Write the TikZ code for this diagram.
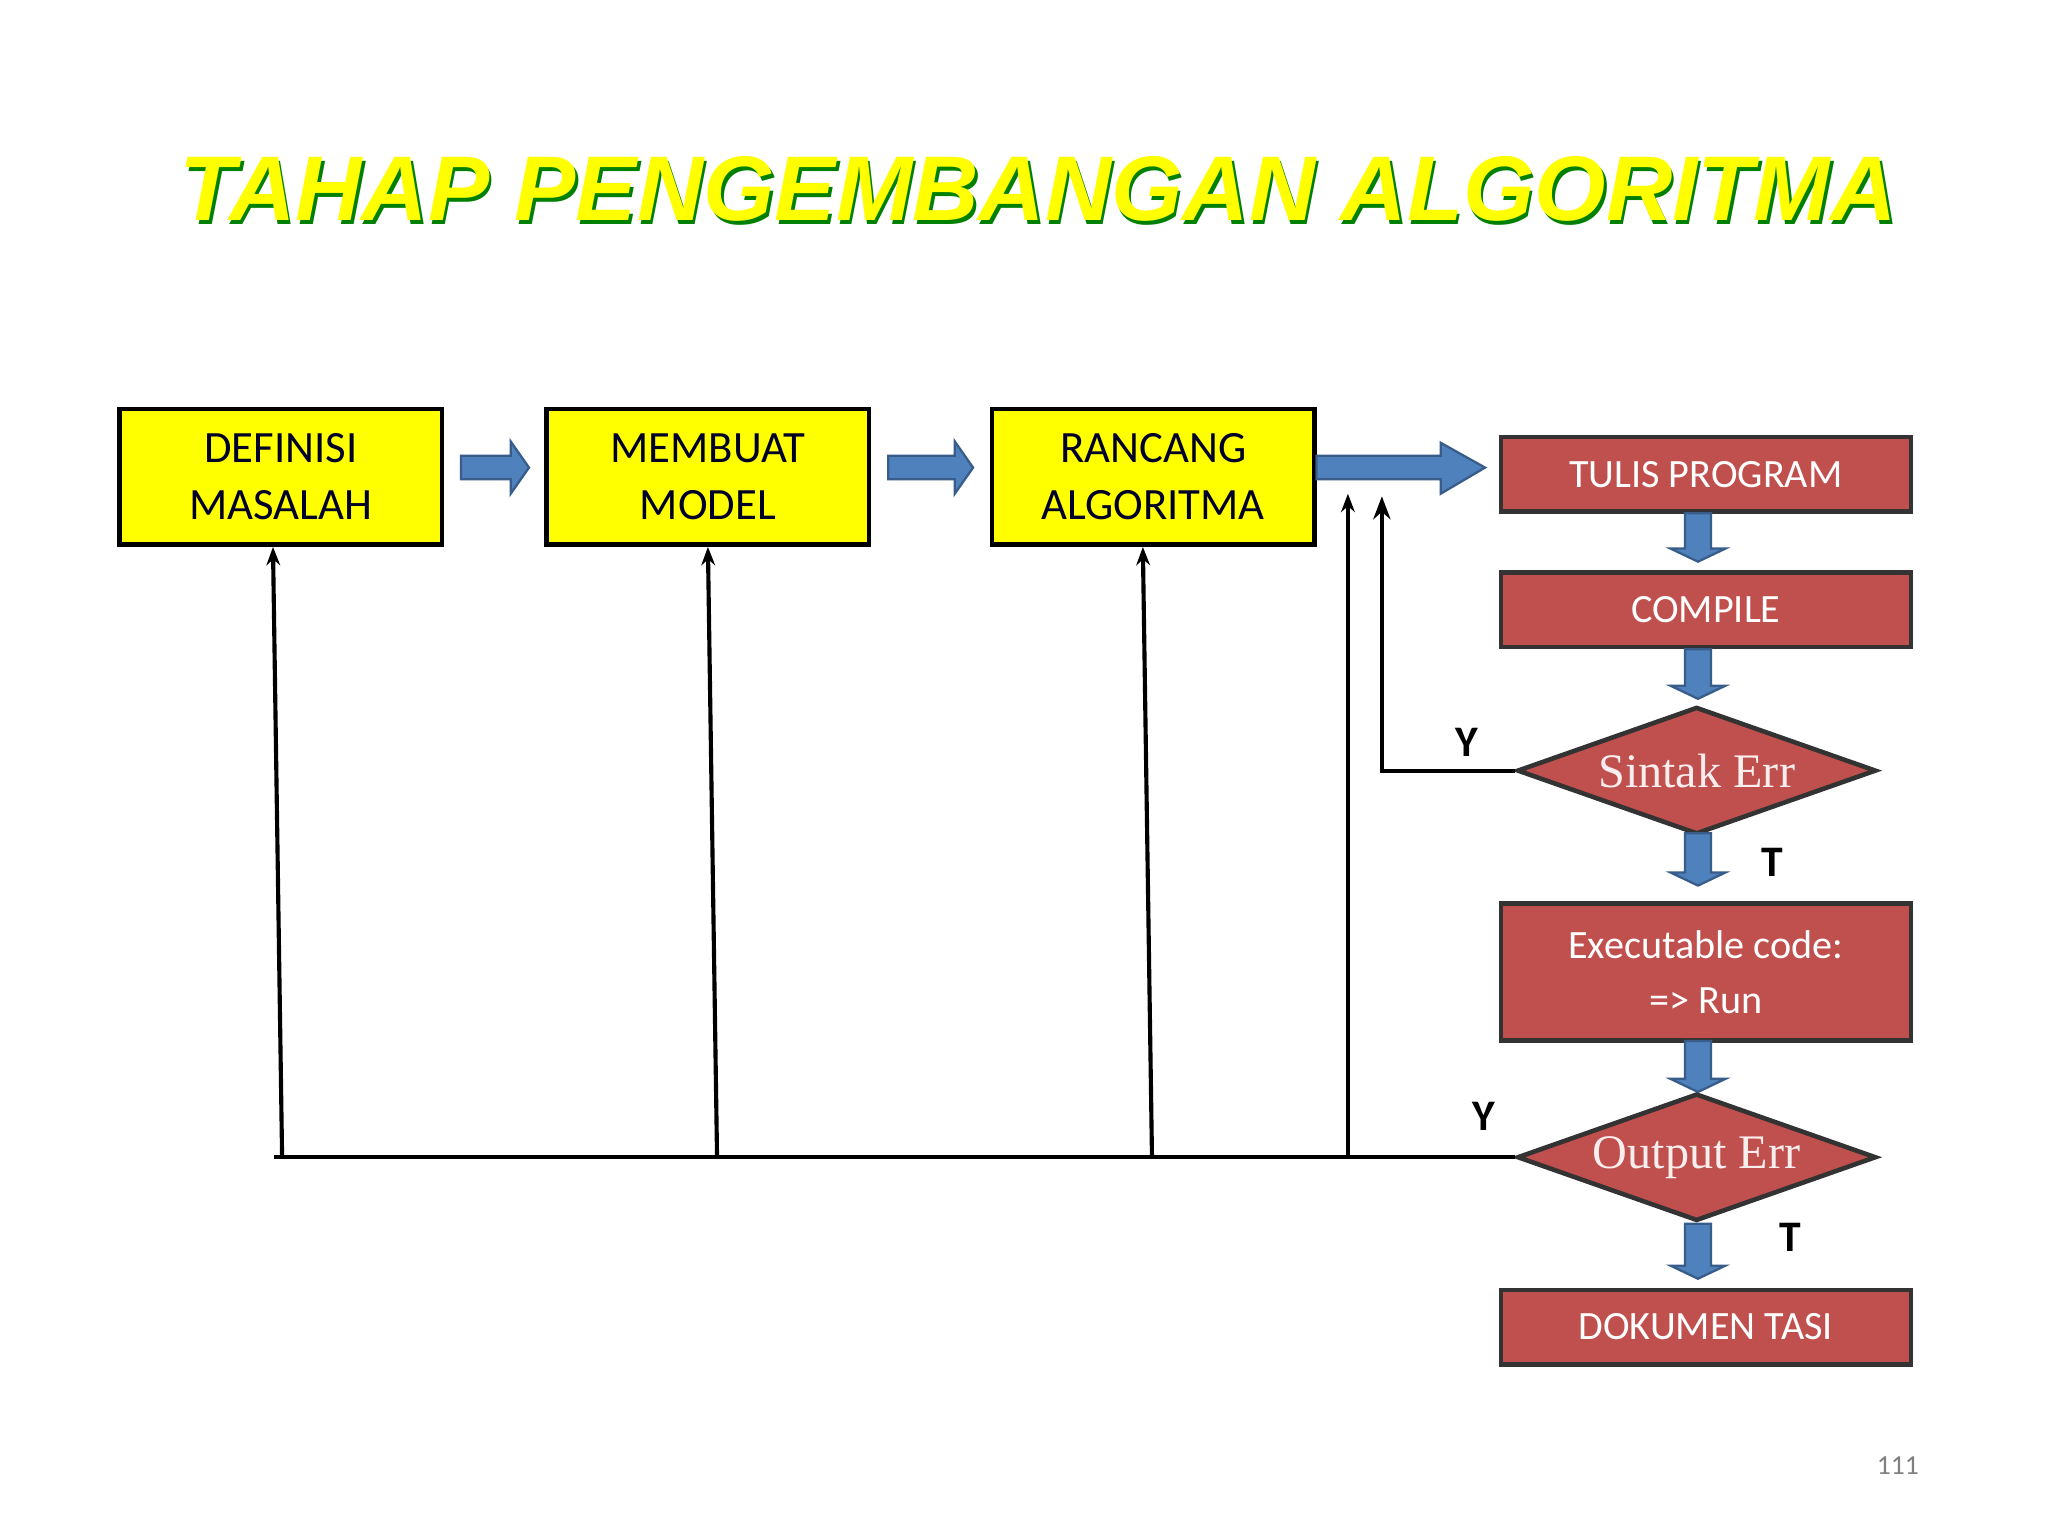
\documentclass[tikz,border=0pt]{standalone}
\usepackage{fontspec}
\setmainfont{Carlito}
\newfontfamily\serifx{Liberation Serif}
\newfontfamily\titlef{Liberation Sans}
\usetikzlibrary{arrows.meta,shapes.geometric}
\definecolor{yel}{HTML}{FFFF00}
\definecolor{redf}{HTML}{C0504D}
\definecolor{bluef}{HTML}{4F81BD}
\definecolor{blueb}{HTML}{385D8A}
\begin{document}
\begin{tikzpicture}[x=0.02cm,y=-0.02cm,
  ybox/.style={draw=black,line width=2pt,fill=yel,minimum width=4.94cm,minimum height=2.08cm,align=center,font=\fontsize{19.5}{25}\selectfont,text=black!85!blue},
  rbox/.style={draw=black!80,line width=2pt,fill=redf,minimum width=6.28cm,align=center,text=white,font=\fontsize{17.5}{24}\selectfont},
  dia/.style={diamond,aspect=2.85,draw=black!80,line width=2pt,fill=redf,minimum width=5.5cm,minimum height=1.95cm,inner sep=0pt,text=white!90!redf,font=\serifx\fontsize{21}{24}\selectfont},
  fb/.style={line width=1.8pt,black},
  lbl/.style={font=\bfseries\fontsize{19}{20}\selectfont}]
\useasboundingbox (0,0) rectangle (1568,1176);
\fill[white] (0,0) rectangle (1568,1176);
% title
\node[font=\titlef\bfseries\itshape\fontsize{40}{44}\selectfont,text=green!50!black] at (797,148) {TAHAP PENGEMBANGAN ALGORITMA};
\node[font=\titlef\bfseries\itshape\fontsize{40}{44}\selectfont,text=yel] at (795,145) {TAHAP PENGEMBANGAN ALGORITMA};
% yellow boxes
\node[ybox] (a) at (215,365) {DEFINISI\\MASALAH};
\node[ybox] (b) at (542,365) {MEMBUAT\\MODEL};
\node[ybox] (c) at (883,365) {RANCANG\\ALGORITMA};
% red
\node[rbox,minimum height=1.14cm] (t) at (1306,363) {TULIS PROGRAM};
\node[rbox,minimum height=1.14cm] (co) at (1306,467) {COMPILE};
\node[dia] (s) at (1299,590) {Sintak Err};
\node[rbox,minimum height=2.1cm] (e) at (1306,744) {Executable code:\\=> Run};
\node[dia] (o) at (1299,886) {Output Err};
\node[rbox,minimum height=1.14cm] (d) at (1306,1016) {DOKUMEN TASI};
% block arrows
\newcommand\rarr[5]{\draw[draw=blueb,fill=bluef,line width=1pt] (#1,#3-#4) -- (#2-14,#3-#4) -- (#2-14,#3-#5) -- (#2,#3) -- (#2-14,#3+#5) -- (#2-14,#3+#4) -- (#1,#3+#4) -- cycle;}
\newcommand\darr[3]{\draw[draw=blueb,fill=bluef,line width=1pt] (#1-10,#2) -- (#1+10,#2) -- (#1+10,#3-10) -- (#1+21,#3-10) -- (#1,#3) -- (#1-21,#3-10) -- (#1-10,#3-10) -- cycle;}
\rarr{353}{405}{358}{9}{20}
\rarr{680}{745}{358}{9}{20}
\draw[draw=blueb,fill=bluef,line width=1pt] (1008,349) -- (1103,349) -- (1103,339) -- (1137,358) -- (1103,378) -- (1103,367) -- (1008,367) -- cycle;
\darr{1300}{393}{430}
\darr{1300}{497}{535}
\darr{1300}{638}{678}
\darr{1300}{797}{836}
\darr{1300}{937}{979}
% feedback lines
\draw[fb,-{Stealth[length=10pt]}] (s.west) -| (1058,380);
\draw[fb] (o.west) -- (o.west -| 210,0);
\draw[fb,-{Stealth[length=8pt]}] (216,887) -- (a.south -| 209,0);
\draw[fb,-{Stealth[length=8pt]}] (549,887) -- (b.south -| 542,0);
\draw[fb,-{Stealth[length=8pt]}] (882,887) -- (c.south -| 875,0);
\draw[fb,-{Stealth[length=8pt]}] (1032,887) -- (1032,378);
\node[lbl] at (1123,568) {Y};
\node[lbl] at (1357,660) {T};
\node[lbl] at (1136,855) {Y};
\node[lbl] at (1371,947) {T};
\node[text=gray,font=\fontsize{12}{14}\selectfont] at (1453,1122) {111};
\end{tikzpicture}
\end{document}
